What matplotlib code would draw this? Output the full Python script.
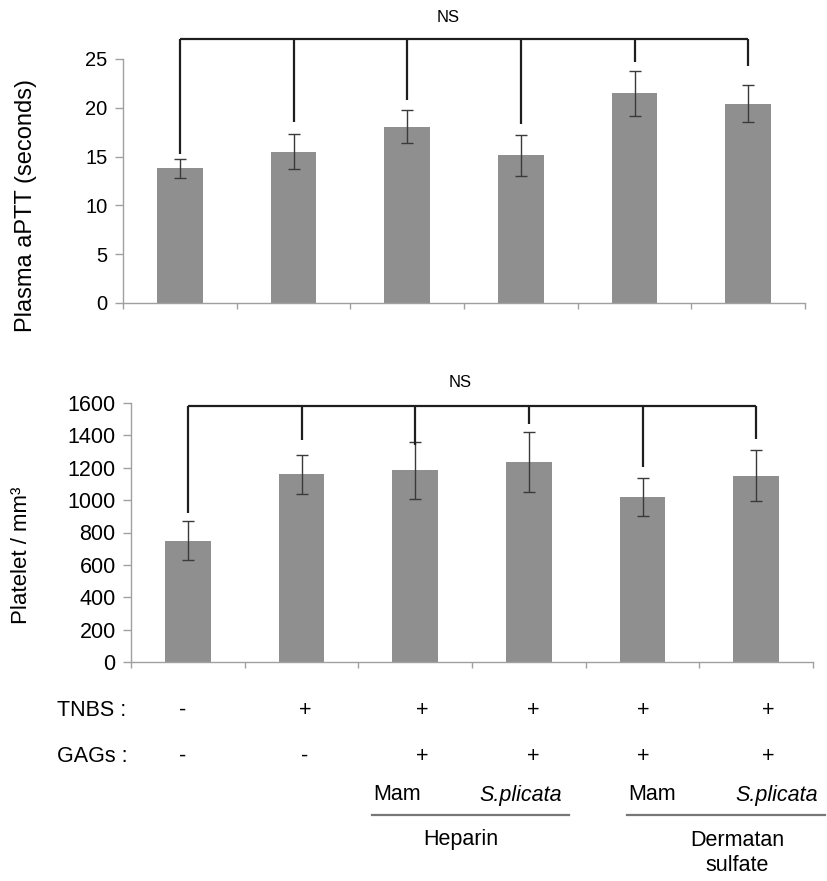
import matplotlib
matplotlib.use("Agg")
import matplotlib.pyplot as plt

plt.rcParams['font.family'] = ['Liberation Sans', 'DejaVu Sans']

# ---------------- data ----------------
groups = ["Control", "TNBS", "TNBS+Hep Mam", "TNBS+Hep S.plicata", "TNBS+DS Mam", "TNBS+DS S.plicata"]
aptt_mean = [13.8, 15.5, 18.05, 15.15, 21.5, 20.4]
aptt_err = [0.95, 1.8, 1.7, 2.1, 2.3, 1.9]
platelet_mean = [750, 1160, 1185, 1235, 1020, 1150]
platelet_err = [120, 120, 175, 185, 115, 158]

aptt_ticks = [0, 5, 10, 15, 20, 25]
platelet_ticks = [0, 200, 400, 600, 800, 1000, 1200, 1400, 1600]

# significance brackets (level of the bar, end of each drop)
aptt_bracket_level = 27.1
aptt_drop_ends = [15.3, 18.5, 20.8, 18.3, 24.7, 24.3]
plt_bracket_level = 1580
plt_drop_ends = [920, 1370, 1340, 1470, 1204, 1377]

tnbs_row = ["-", "+", "+", "+", "+", "+"]
gags_row = ["-", "-", "+", "+", "+", "+"]
source_labels = ["Mam", "S.plicata", "Mam", "S.plicata"]
gag_labels = ["Heparin", "Dermatan\nsulfate"]

# ---------------- layout ----------------
W, H = 827, 881
fig = plt.figure(figsize=(W / 100, H / 100), dpi=100)

def fx(px):
    return px / W

def fy(py):
    return 1 - py / H

bar_color = "#8f8f8f"
err_color = "#3a3a3a"
spine_color = "#a0a0a0"
br_color = "#1e1e1e"

ax1 = fig.add_axes([fx(123), fy(303), fx(805) - fx(123), fy(59) - fy(303)])
ax2 = fig.add_axes([fx(131), fy(662), fx(813) - fx(131), fy(403) - fy(662)])

def style(ax, ticks, fs):
    ax.set_xlim(-0.5, len(groups) - 0.5)
    ax.set_ylim(ticks[0], ticks[-1])
    ax.set_yticks(ticks)
    ax.set_yticklabels([str(t) for t in ticks], fontsize=fs)
    ax.set_xticks([i - 0.5 for i in range(len(groups) + 1)])
    ax.set_xticklabels([])
    for s in ["top", "right"]:
        ax.spines[s].set_visible(False)
    for s in ["left", "bottom"]:
        ax.spines[s].set_color(spine_color)
        ax.spines[s].set_linewidth(1.0)
    ax.tick_params(axis="y", direction="out", length=6, width=1, color=spine_color, pad=5)
    ax.tick_params(axis="x", direction="out", length=4, width=1, color=spine_color)

def draw(ax, means, errs, level, drops):
    x = list(range(len(means)))
    ax.bar(x, means, width=0.4, color=bar_color, zorder=2)
    ax.errorbar(x, means, yerr=errs, fmt="none", ecolor=err_color, elinewidth=1.0,
                capsize=4.5, capthick=1.0, zorder=3)
    ax.plot([x[0], x[-1]], [level, level], color=br_color, lw=1.6, clip_on=False,
            solid_capstyle="butt", zorder=4)
    for xi, d in zip(x, drops):
        ax.plot([xi, xi], [d, level], color=br_color, lw=1.6, clip_on=False,
                solid_capstyle="butt", zorder=4)

style(ax1, aptt_ticks, 14.5)
style(ax2, platelet_ticks, 15.5)
draw(ax1, aptt_mean, aptt_err, aptt_bracket_level, aptt_drop_ends)
draw(ax2, platelet_mean, platelet_err, plt_bracket_level, plt_drop_ends)

fig.text(fx(448), fy(17), "NS", ha="center", va="center", fontsize=12)
fig.text(fx(460), fy(383), "NS", ha="center", va="center", fontsize=12)

fig.text(fx(26), fy(205), "Plasma aPTT (seconds)", rotation=90, ha="center", va="center", fontsize=17)
fig.text(fx(22), fy(555), "Platelet / mm³", rotation=90, ha="center", va="center", fontsize=16)

# condition table under the lower chart
fs_tab = 15.5
col_x = [183, 305, 422, 533, 643, 768]
fig.text(fx(57), fy(710), "TNBS :", ha="left", va="center", fontsize=fs_tab)
fig.text(fx(57), fy(756), "GAGs :", ha="left", va="center", fontsize=fs_tab)
for px, t, g in zip(col_x, tnbs_row, gags_row):
    fig.text(fx(px), fy(710), t, ha="center", va="center", fontsize=fs_tab)
    fig.text(fx(px), fy(756), g, ha="center", va="center", fontsize=fs_tab)

src_x = [397, 521, 652, 777]
for lab, px in zip(source_labels, src_x):
    style_ = "italic" if lab.startswith("S.") else "normal"
    fig.text(fx(px), fy(795), lab, ha="center", va="center", fontsize=fs_tab, style=style_)

for (x0, x1) in [(372, 569), (627, 825)]:
    fig.add_artist(plt.Line2D([fx(x0), fx(x1)], [fy(815), fy(815)], color="#777777", lw=1.6,
                              transform=fig.transFigure))

fig.text(fx(461), fy(840), gag_labels[0], ha="center", va="center", fontsize=fs_tab)
fig.text(fx(737), fy(853), gag_labels[1], ha="center", va="center", fontsize=fs_tab,
         linespacing=1.2, multialignment="center")

fig.savefig("out.png", dpi=100)
